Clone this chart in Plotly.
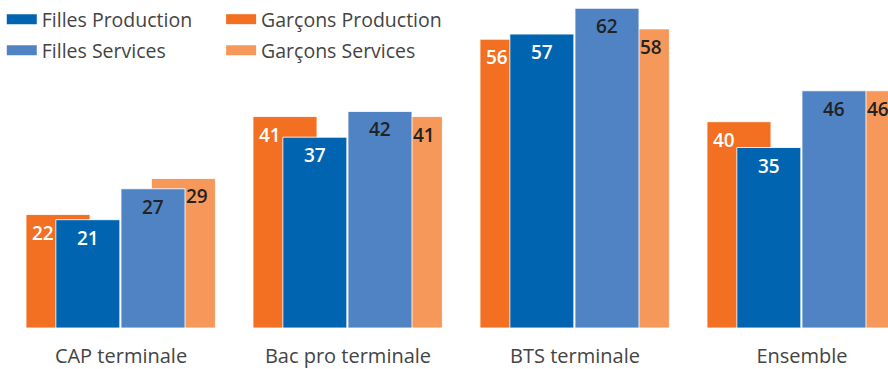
import plotly.graph_objects as go

# Data
categories = ["CAP terminale", "Bac pro terminale", "BTS terminale", "Ensemble"]
garcons_production = [22, 41, 56, 40]
filles_production = [21, 37, 57, 35]
filles_services = [27, 42, 62, 46]
garcons_services = [29, 41, 58, 46]

series_names = ["Filles Production", "Garçons Production", "Filles Services", "Garçons Services"]

C_GP = "#F36F21"
C_FP = "#0064B1"
C_FS = "#4F83C4"
C_GS = "#F6985A"

FONT = "Open Sans"
TEXT_COL = "#444444"
BAR_W = 0.282
x_idx = list(range(len(categories)))

# draw order: light-orange and orange behind, blues in front
bars = [
    (garcons_production, C_GP, -0.4185, -0.344, "white"),
    (garcons_services, C_GS, 0.1340, 0.337, "#222222"),
    (filles_production, C_FP, -0.2870, -0.147, "white"),
    (filles_services, C_FS, 0.0000, 0.140, "#222222"),
]

fig = go.Figure()
annotations = []
for values, color, off, lab_off, txt_col in bars:
    fig.add_trace(go.Bar(
        x=x_idx, y=values, offset=off, width=BAR_W,
        marker=dict(color=color, line=dict(color="rgba(255,255,255,0.85)", width=1)),
        showlegend=False, hoverinfo="skip",
    ))
    for i, v in zip(x_idx, values):
        annotations.append(dict(
            x=i + lab_off, y=v, xref="x", yref="y", text=str(v), showarrow=False,
            yanchor="middle", yshift=-18,
            font=dict(family=FONT, size=19, color=txt_col, weight=600),
        ))

# legend entries, one legend per slot for a 2x2 grid
legend_colors = [C_FP, C_GP, C_FS, C_GS]
legend_pos = [(0.002, 1.0), (0.249, 1.0), (0.002, 0.905), (0.249, 0.905)]
legend_keys = ["legend", "legend2", "legend3", "legend4"]
for name, color, key in zip(series_names, legend_colors, legend_keys):
    fig.add_trace(go.Scatter(
        x=[None], y=[None], mode="lines", name=name,
        line=dict(color=color, width=11), legend=key, hoverinfo="skip",
    ))

layout_legends = {}
for key, (lx, ly) in zip(legend_keys, legend_pos):
    layout_legends[key] = dict(
        x=lx, y=ly, xanchor="left", yanchor="top", xref="paper", yref="paper",
        bgcolor="rgba(0,0,0,0)", borderwidth=0,
        font=dict(family=FONT, size=19.5, color=TEXT_COL),
        itemwidth=30, tracegroupgap=0,
    )

fig.update_layout(
    width=888, height=369,
    margin=dict(l=0, r=0, t=0, b=41),
    paper_bgcolor="white", plot_bgcolor="white",
    barmode="overlay",
    annotations=annotations,
    xaxis=dict(
        range=[-0.533, 3.379], tickmode="array", tickvals=x_idx, ticktext=categories,
        showgrid=False, zeroline=False, showline=False,
        ticks="outside", ticklen=10, tickcolor="rgba(0,0,0,0)",
        tickfont=dict(family=FONT, size=20, color=TEXT_COL),
    ),
    yaxis=dict(range=[0, 63.6], visible=False, showgrid=False, zeroline=False),
    **layout_legends,
)

fig.write_html("out.html")
